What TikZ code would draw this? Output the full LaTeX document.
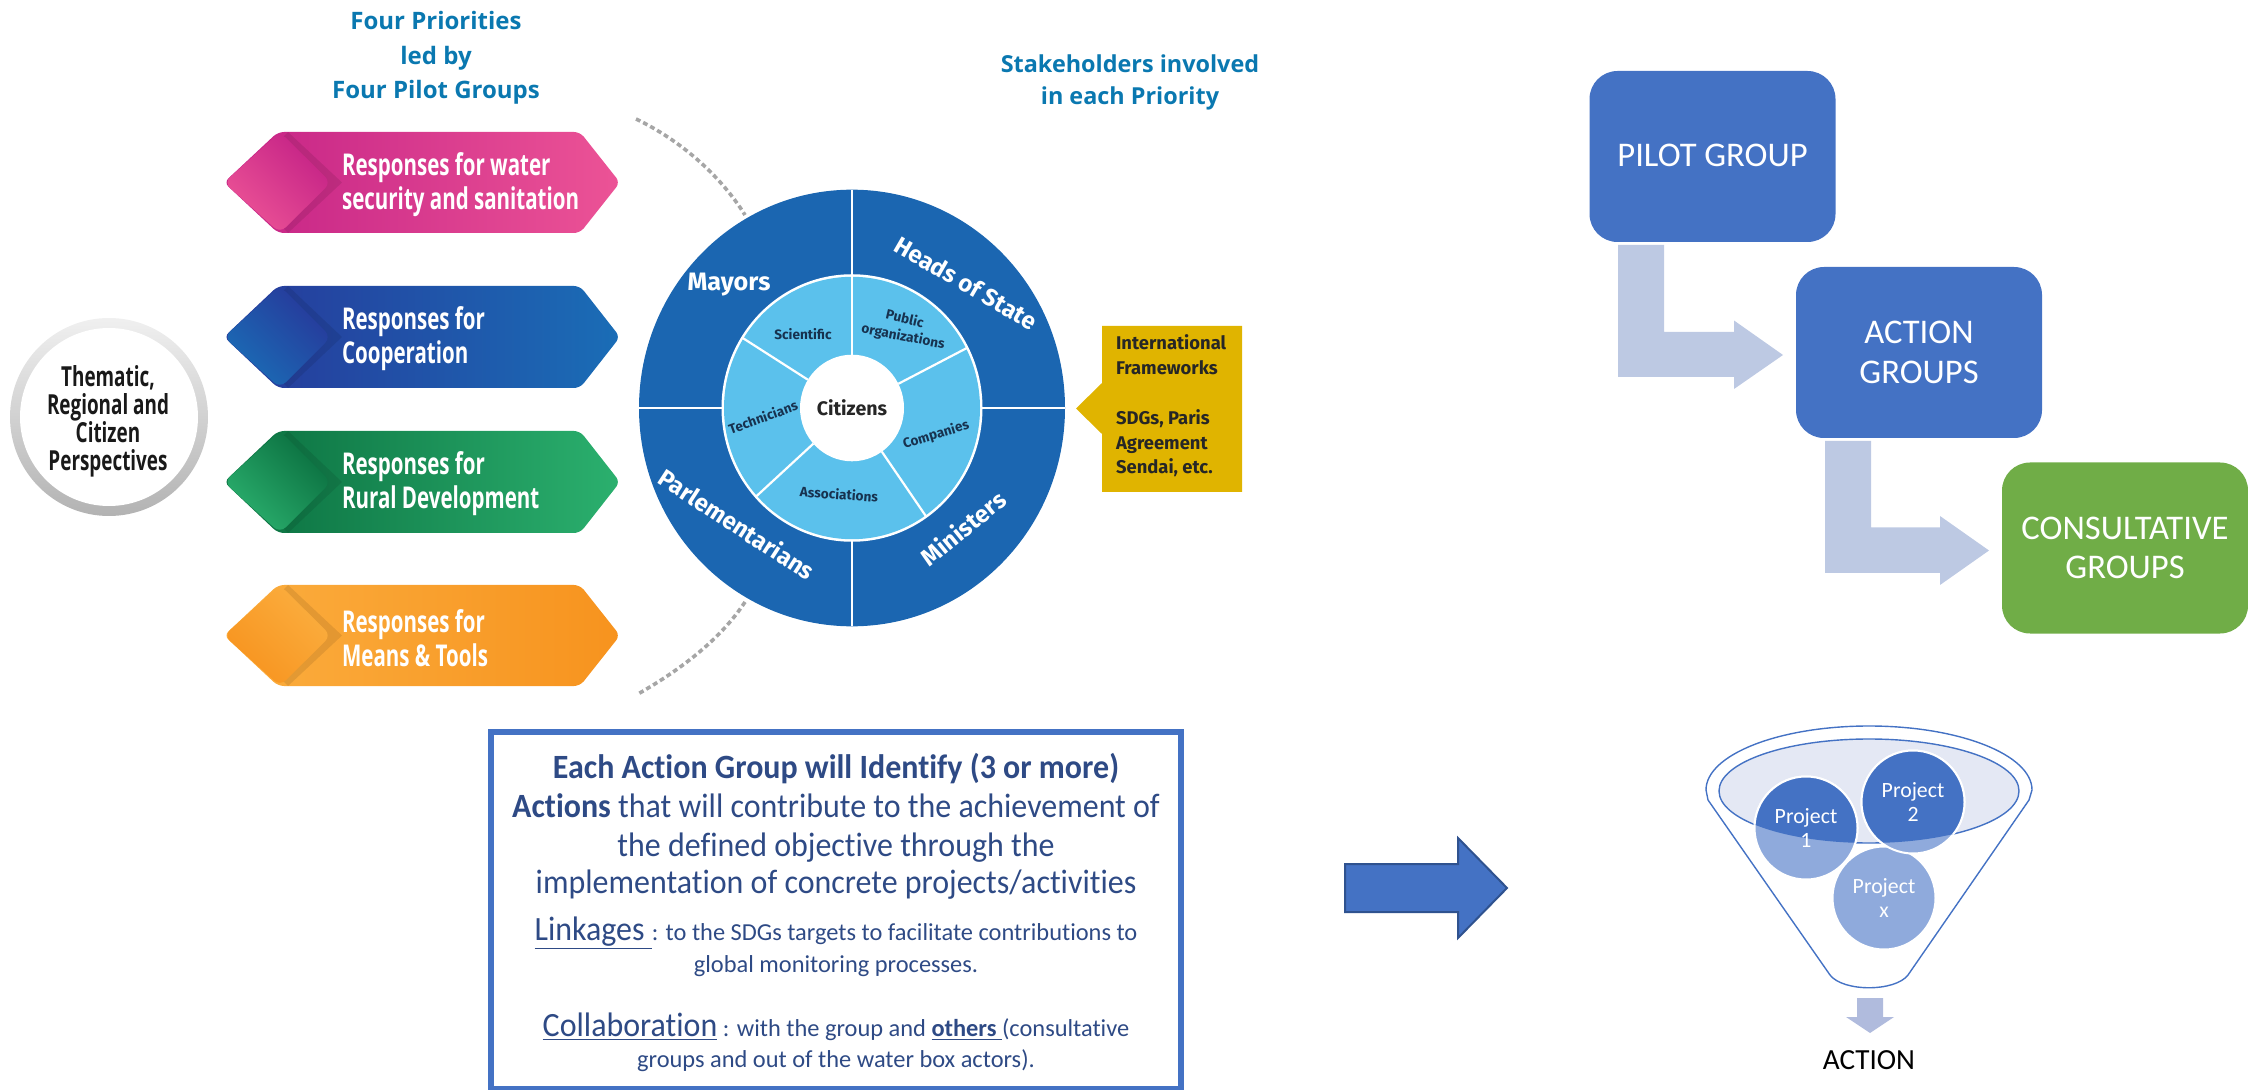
\documentclass[tikz,border=0pt]{standalone}
\usepackage{fontspec}
\setmainfont[Ligatures=NoCommon]{Carlito}
\newfontfamily\bodyf[FakeStretch=0.94,Ligatures=NoCommon]{Carlito}
\newfontfamily\headf{Open Sans}
\newfontfamily\hexf[FakeStretch=0.684]{Open Sans}
\newfontfamily\wheelf{Fira Sans}
\definecolor{headblue}{HTML}{0A78B0}
\definecolor{wheeldark}{HTML}{1B66B1}
\definecolor{wheellight}{HTML}{5BC1EC}
\definecolor{wheelink}{HTML}{17324F}
\definecolor{goldbox}{HTML}{E0B400}
\definecolor{officeblue}{HTML}{4472C4}
\definecolor{officeline}{HTML}{2F528F}
\definecolor{officegreen}{HTML}{70AD47}
\definecolor{palearrow}{HTML}{BDC9E3}
\definecolor{downarrow}{HTML}{B0BBDD}
\definecolor{bodyink}{HTML}{2E4A85}
\definecolor{lightcirc}{HTML}{8FAADC}
\definecolor{rimfill}{HTML}{E4E8F4}
\definecolor{pinkA}{HTML}{C42286}
\definecolor{pinkB}{HTML}{EC5396}
\definecolor{blueA}{HTML}{27389A}
\definecolor{blueB}{HTML}{1A6DB6}
\definecolor{greenA}{HTML}{0A6E3F}
\definecolor{greenB}{HTML}{2BB06E}
\definecolor{orangeA}{HTML}{FBAE3F}
\definecolor{orangeB}{HTML}{F7931E}
\tikzset{
  headtxt/.style={text=headblue,align=center,font=\headf\bfseries\fontsize{12}{17.2}\selectfont},
  hextxt/.style={text=white,align=left,anchor=west,font=\hexf\bfseries\fontsize{15}{17}\selectfont},
  outerlab/.style={text=white,font=\wheelf\bfseries\fontsize{12}{14}\selectfont},
  innerlab/.style={text=wheelink,font=\wheelf\bfseries\fontsize{6.8}{8}\selectfont},
  goldtxt/.style={text=black!85,align=left,anchor=west,font=\wheelf\bfseries\fontsize{9.2}{12.4}\selectfont},
  flowbox/.style={rounded corners=14pt,minimum width=123pt,minimum height=85.5pt,text=white,align=center,font=\fontsize{17.3}{19}\selectfont},
  bodytxt/.style={text=bodyink,align=center,anchor=base},
  bodybig/.style={bodytxt,font=\bodyf\fontsize{17}{17}\selectfont},
  bodysmall/.style={bodytxt,font=\fontsize{12.2}{12}\selectfont},
  projtxt/.style={text=white,align=center,font=\fontsize{10.9}{11.7}\selectfont},
}
\newcommand{\prioritybar}[5]{% top, bottom, left colour, right colour, name
  \pgfmathsetmacro{\cy}{(#1+#2)/2}
  \shade[rounded corners=3pt,left color=#3,right color=#4] (224,\cy) -- (278,#1) -- (580,#1) -- (620,\cy) -- (580,#2) -- (278,#2) -- cycle;
  \begin{scope}
    \clip (224,\cy) -- (278,#1) -- (580,#1) -- (620,\cy) -- (580,#2) -- (278,#2) -- cycle;
    \fill[black,opacity=.09] (240,\cy) -- (288,#1) -- (342,\cy) -- (288,#2) -- cycle;
  \end{scope}
  \shade[rounded corners=4pt,left color=#3,right color=#4,shading angle=-45] (224,\cy) -- (280,#1) -- (331,\cy) -- (280,#2) -- cycle;
}
\begin{document}
\begin{tikzpicture}[x=0.5pt,y=-0.5pt]
\useasboundingbox (0,0) rectangle (2248,1090);
% headers
\node[headtxt] (hfour) at (436,58) {Four Priorities\\led by\\Four Pilot Groups};
\node[headtxt,font=\headf\bfseries\fontsize{11.7}{16}\selectfont] (hstake) at (1130,82) {Stakeholders involved\\in each Priority};
% priority bars
\prioritybar{132}{233}{pinkA}{pinkB}{a}
\prioritybar{286}{388}{blueA}{blueB}{b}
\prioritybar{431}{533}{greenA}{greenB}{c}
\prioritybar{585}{686}{orangeA}{orangeB}{d}
\node[hextxt] (ta) at (335,185) {Responses for water\\security and sanitation};
\node[hextxt] (tb) at (335,339) {Responses for\\Cooperation};
\node[hextxt] (tc) at (335,484) {Responses for\\Rural Development};
\node[hextxt] (td) at (335,638) {Responses for\\Means \& Tools};
% perspectives circle
\shade[top color=black!6,bottom color=black!30] (109,417) circle[radius=99];
\fill[white] (109,417) circle[radius=89];
\node[text=black!90,align=center,font=\hexf\bfseries\fontsize{13.8}{14}\selectfont] (persp) at (108,421) {Thematic,\\Regional and\\Citizen\\Perspectives};
% dotted arcs
\coordinate (ua) at (636,119);
\coordinate (ub) at (745,215);
\coordinate (la) at (745,602);
\coordinate (lb) at (638,694);
\draw[black!35,line width=1.8pt,dash pattern=on 2.4pt off 1.6pt] (ua) .. controls (680,140) and (720,175) .. (ub);
\draw[black!35,line width=1.8pt,dash pattern=on 2.4pt off 1.6pt] (la) .. controls (720,640) and (680,670) .. (lb);
% wheel
\begin{scope}[shift={(852,408)},x=0.5pt,y=0.5125pt]
  \fill[wheeldark] (0,0) circle[radius=213];
  \fill[white] (0,0) circle[radius=130.5];
  \fill[wheellight] (0,0) circle[radius=128];
  \fill[white] (0,0) circle[radius=52];
  \draw[white,line width=1.4pt] (0,52) -- (0,213);
  \draw[white,line width=1.4pt] (0,-129) -- (0,-213);
  \draw[white,line width=1.4pt] (-213,0) -- (-129,0);
  \draw[white,line width=1.4pt] (129,0) -- (213,0);
  \draw[white,line width=1.1pt] (27:52) -- (27:129);
  \draw[white,line width=1.1pt] (-55:52) -- (-55:129);
  \draw[white,line width=1.1pt] (222:52) -- (222:129);
  \draw[white,line width=1.1pt] (148:52) -- (148:129);
\end{scope}
\node[outerlab,font=\wheelf\bfseries\fontsize{12.6}{14}\selectfont] (mayors) at (729,285) {Mayors};
\node[outerlab,rotate=-30] (heads) at (966,283) {Heads of State};
\node[outerlab,rotate=-33] (parl) at (737,524) {Parlementarians};
\node[outerlab,rotate=39] (mins) at (963,528) {Ministers};
\node[innerlab] (sci) at (803,334) {Scientific};
\node[innerlab,rotate=-13] (pub) at (905,318) {Public};
\node[innerlab,rotate=-11] (org) at (903,337) {organizations};
\node[innerlab,rotate=17] (comp) at (936,435) {Companies};
\node[innerlab,rotate=-4] (assoc) at (839,494) {Associations};
\node[innerlab,rotate=20] (tech) at (763,417) {Technicians};
\node[text=black!85,font=\wheelf\bfseries\fontsize{9.8}{12}\selectfont] (cit) at (852,408) {Citizens};
% gold callout
\fill[goldbox] (1076,408.5) -- (1102,383) -- (1102,326) -- (1242,326) -- (1242,492) -- (1102,492) -- (1102,434) -- cycle;
\node[goldtxt] (gold) at (1109,406) {International\\Frameworks\\[12.4pt]SDGs, Paris\\Agreement\\Sendai, etc.};
% flow boxes
\coordinate (b1) at (1712.5,156.5);
\coordinate (b2) at (1919,352.5);
\coordinate (b3) at (2125,548);
\fill[palearrow] (1618,245) -- (1664,245) -- (1664,332) -- (1734,332) -- (1734,320.5) -- (1783,355) -- (1734,389) -- (1734,377) -- (1618,377) -- cycle;
\fill[palearrow] (1825,441) -- (1871,441) -- (1871,527.5) -- (1940,527.5) -- (1940,516) -- (1989,550.5) -- (1940,585) -- (1940,573) -- (1825,573) -- cycle;
\node[flowbox,fill=officeblue] (pilot) at (b1) {\raisebox{1.5pt}{PILOT GROUP}};
\node[flowbox,fill=officeblue] (action) at (b2) {\raisebox{.6pt}{ACTION}\\GROUPS};
\node[flowbox,fill=officegreen] (consult) at (b3) {\raisebox{.6pt}{CONSULTATIVE}\\GROUPS};
% text box
\draw[officeblue,line width=3pt] (491,732) rectangle (1181,1089);
\node[bodybig] (l1) at (836,778) {\textbf{Each Action Group will Identify (3 or more)}};
\node[bodybig] (l2) at (836,817) {\textbf{Actions} that will contribute to the achievement of};
\node[bodybig] (l3) at (836,856) {the defined objective through the};
\node[bodybig] (l4) at (836,893) {implementation of concrete projects/activities};
\node[bodysmall] (l5) at (836,940) {{\bodyf\fontsize{17}{17}\selectfont\underline{Linkages\ }}: to the SDGs targets to facilitate contributions to};
\node[bodysmall] (l6) at (836,972) {global monitoring processes.};
\node[bodysmall] (l7) at (836,1036) {{\bodyf\fontsize{17}{17}\selectfont\underline{Collaboration}} : with the group and \underline{\textbf{others\ }}(consultative};
\node[bodysmall] (l8) at (836,1067) {groups and out of the water box actors).};
% big arrow
\draw[fill=officeblue,draw=officeline,line width=1pt] (1345,864) -- (1458,864) -- (1458,838) -- (1507,888) -- (1458,938) -- (1458,912) -- (1345,912) -- cycle;
% funnel
\coordinate (p1c) at (1806,828);
\coordinate (p2c) at (1913,802);
\coordinate (pxc) at (1884,898);
\draw[officeblue,line width=.7pt] (1706,790) arc[start angle=180,end angle=360,x radius=163,y radius=64] -- (2029,800) -- (1908,975) .. controls (1895,992) and (1843,992) .. (1830,975) -- (1708,800) -- cycle;
\draw[officeblue,line width=.7pt,fill=rimfill] (1869,791) circle[x radius=150,y radius=52];
\filldraw[fill=lightcirc,draw=white,line width=1pt] (pxc) circle[radius=51.5];
\filldraw[fill=lightcirc,draw=white,line width=1pt] (p1c) circle[radius=51.5];
\filldraw[fill=lightcirc,draw=white,line width=1pt] (p2c) circle[radius=51.5];
\begin{scope}
  \clip (1869,791) circle[x radius=150,y radius=52];
  \filldraw[fill=officeblue,draw=white,line width=1pt] (p1c) circle[radius=51.5];
  \filldraw[fill=officeblue,draw=white,line width=1pt] (p2c) circle[radius=51.5];
\end{scope}
\node[projtxt] (p1) at (p1c) {Project\\1};
\node[projtxt] (p2) at (p2c) {Project\\2};
\node[projtxt] (px) at (pxc) {Project\\x};
\fill[downarrow] (1857,998) -- (1883,998) -- (1883,1017) -- (1894,1017) -- (1870,1033) -- (1846,1017) -- (1857,1017) -- cycle;
\node[anchor=base,text=black,font=\fontsize{14.6}{15}\selectfont] (act) at (1869,1069) {ACTION};
\end{tikzpicture}
\end{document}
